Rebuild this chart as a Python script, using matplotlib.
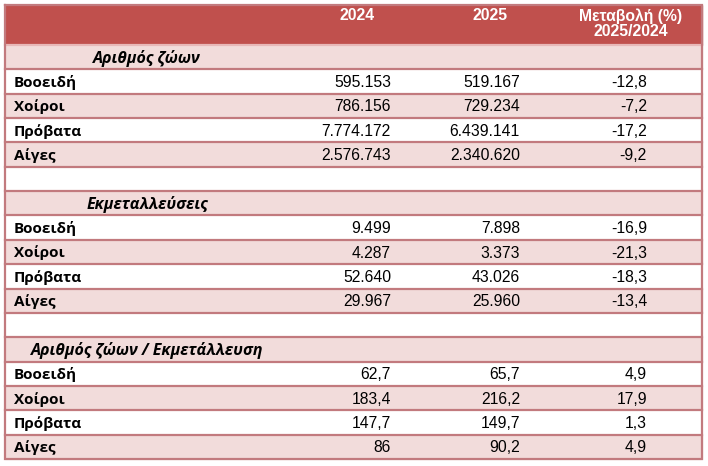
import matplotlib.pyplot as plt
from matplotlib.patches import Rectangle

# table data
years = ['2024', '2025']
change_header = 'Μεταβολή (%)\n2025/2024'
animals = ['Βοοειδή', 'Χοίροι', 'Πρόβατα', 'Αίγες']
sections = ['Αριθμός ζώων', 'Εκμεταλλεύσεις', 'Αριθμός ζώων / Εκμετάλλευση']

heads_2024 = [595153, 786156, 7774172, 2576743]
heads_2025 = [519167, 729234, 6439141, 2340620]
heads_change = [-12.8, -7.2, -17.2, -9.2]

farms_2024 = [9499, 4287, 52640, 29967]
farms_2025 = [7898, 3373, 43026, 25960]
farms_change = [-16.9, -21.3, -18.3, -13.4]

per_farm_2024 = [62.7, 183.4, 147.7, 86]
per_farm_2025 = [65.7, 216.2, 149.7, 90.2]
per_farm_change = [4.9, 17.9, 1.3, 4.9]

blocks = [
    (heads_2024, heads_2025, heads_change),
    (farms_2024, farms_2025, farms_change),
    (per_farm_2024, per_farm_2025, per_farm_change),
]

RED = '#C0504D'
PINK = '#F2DCDB'
LINE = '#C27A7E'
LABEL_FONT = ['Open Sans', 'DejaVu Sans']
NUM_FONT = ['Liberation Sans', 'DejaVu Sans']


def fmt(v):
    # greek style: '.' for thousands, ',' for decimals
    if float(v).is_integer():
        return f'{int(v):,}'.replace(',', '.')
    return f'{v:.1f}'.replace('.', ',')


fig = plt.figure(figsize=(7.08, 4.66), dpi=100)
ax = fig.add_axes([0, 0, 1, 1])
ax.set_xlim(0, 708)
ax.set_ylim(466, 0)
ax.axis('off')

left, right = 5, 702
top, head_bottom, bottom = 5, 45, 459
n_rows = len(sections) * (len(animals) + 1) + len(sections) - 1
row_h = (bottom - head_bottom) / n_rows
col_right = [391, 520]
change_right = 647
head_centers = [357, 490, 631]

# header
ax.add_patch(Rectangle((left, top), right - left, head_bottom - top, color=RED, zorder=1))
for i, y in enumerate(years):
    ax.text(head_centers[i], 15, y, ha='center', va='center', color='white',
            fontsize=11.3, fontweight='bold', family=NUM_FONT, zorder=3)
ax.text(head_centers[2], 24, change_header, ha='center', va='center', color='white',
        fontsize=11.3, fontweight='bold', family=NUM_FONT, linespacing=1.0, zorder=3)

# body rows
rows = []
for s, name in enumerate(sections):
    rows.append(('section', name, None))
    for a, animal in enumerate(animals):
        rows.append(('data', animal, [blocks[s][0][a], blocks[s][1][a], blocks[s][2][a]]))
    if s < len(sections) - 1:
        rows.append(('blank', '', None))

for r, (kind, label, vals) in enumerate(rows):
    y0 = head_bottom + r * row_h
    yc = y0 + row_h / 2 + 1
    shade = PINK if r % 2 == 0 else 'white'
    ax.add_patch(Rectangle((left, y0), right - left, row_h, color=shade, zorder=1))
    if kind == 'section':
        ax.text(147, yc, label, ha='center', va='center', fontsize=11.5,
                fontweight='bold', style='italic', family=LABEL_FONT, zorder=3)
    elif kind == 'data':
        ax.text(14, yc, label, ha='left', va='center', fontsize=11,
                fontweight='bold', family=LABEL_FONT, zorder=3)
        ax.text(col_right[0], yc, fmt(vals[0]), ha='right', va='center',
                fontsize=11.3, family=NUM_FONT, zorder=3)
        ax.text(col_right[1], yc, fmt(vals[1]), ha='right', va='center',
                fontsize=11.3, family=NUM_FONT, zorder=3)
        ax.text(change_right, yc, fmt(vals[2]), ha='right', va='center',
                fontsize=11.3, family=NUM_FONT, zorder=3)
    ax.plot([left, right], [y0, y0], color=LINE if r else '#E8B8B8', lw=1.6, zorder=2)

# outer border
ax.plot([left, right, right, left, left], [top, top, bottom, bottom, top],
        color=LINE, lw=1.6, zorder=4, solid_joinstyle='miter')

fig.savefig('out.png', dpi=100)
